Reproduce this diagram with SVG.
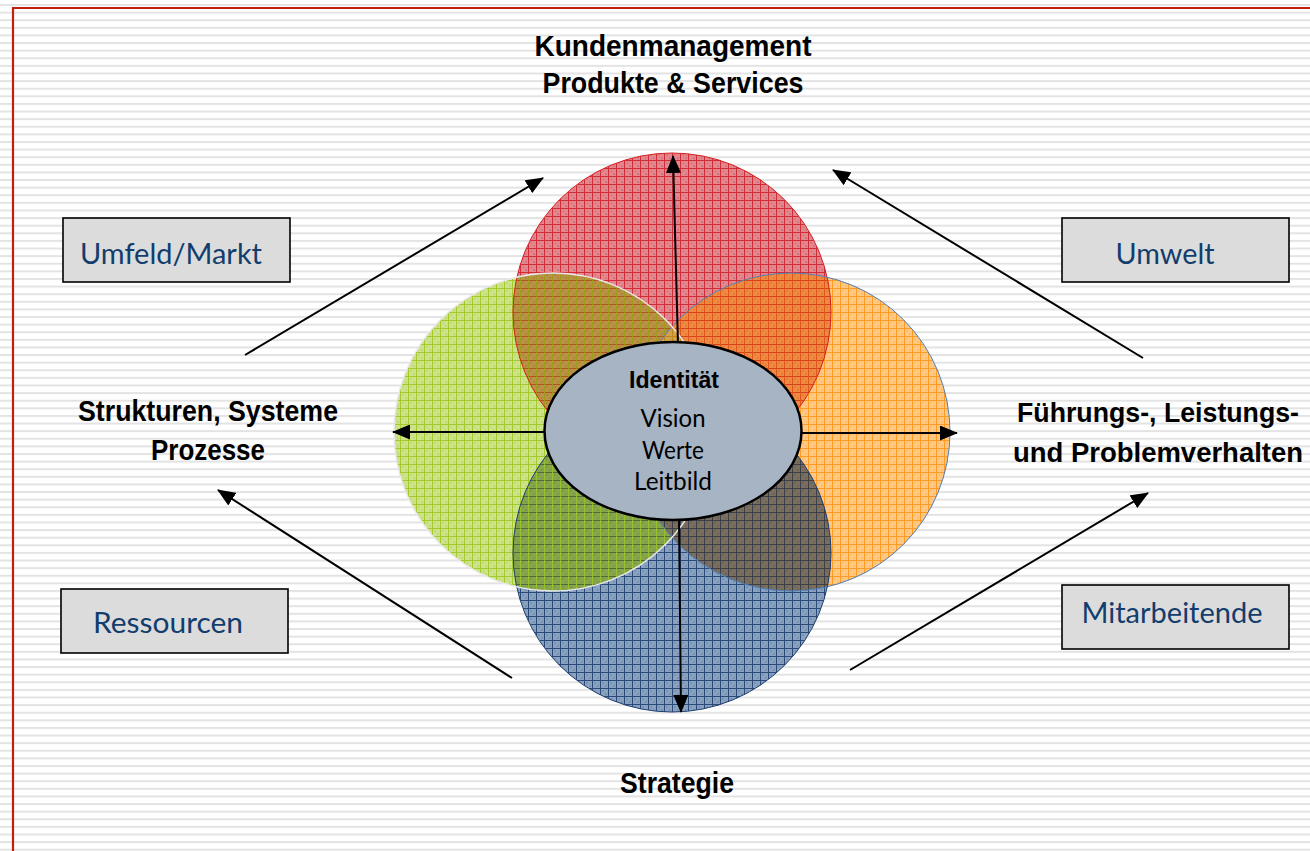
<svg xmlns="http://www.w3.org/2000/svg" width="1310" height="851" viewBox="0 0 1310 851">
<style>
.lbl{font-family:"Liberation Sans",Arial,sans-serif;font-weight:bold;font-size:29px;fill:#000;text-anchor:middle}
.box{fill:#dcdcdc;stroke:#000;stroke-width:1.6}
.btx{font-family:Lato,"Open Sans",sans-serif;font-size:28px;fill:#123d6c;text-anchor:middle}
.ctx{font-family:Lato,"Open Sans",sans-serif;font-size:25px;fill:#000;text-anchor:middle}
.arr{stroke:#000;stroke-width:2;fill:none;marker-end:url(#ah)}
</style>
<defs>
<pattern id="stripes" patternUnits="userSpaceOnUse" width="20" height="7.61" y="4">
<rect width="20" height="7.61" fill="#fff"/>
<rect width="20" height="2" fill="#e3e3e3"/>
</pattern>
<pattern id="pr" patternUnits="userSpaceOnUse" width="8" height="8">
<rect width="8" height="8" fill="#e3878e"/>
<rect x="2" y="2" width="2" height="2" fill="#d9767e"/><rect x="5" y="5" width="2" height="2" fill="#d9767e"/>
<path d="M0,0.5H8M0.5,0V8" stroke="#cf2c38" stroke-width="1"/>
</pattern>
<pattern id="pg" patternUnits="userSpaceOnUse" width="8" height="8">
<rect width="8" height="8" fill="#cde38a"/>
<rect x="2" y="2" width="2" height="2" fill="#c2db76"/><rect x="5" y="5" width="2" height="2" fill="#c2db76"/>
<path d="M0,0.5H8M0.5,0V8" stroke="#a4c92a" stroke-width="1"/>
</pattern>
<pattern id="po" patternUnits="userSpaceOnUse" width="8" height="8">
<rect width="8" height="8" fill="#ffc985"/>
<rect x="2" y="2" width="2" height="2" fill="#ffbd6e"/><rect x="5" y="5" width="2" height="2" fill="#ffbd6e"/>
<path d="M0,0.5H8M0.5,0V8" stroke="#ff9a22" stroke-width="1"/>
</pattern>
<pattern id="pb" patternUnits="userSpaceOnUse" width="8" height="8">
<rect width="8" height="8" fill="#8aa2c0"/>
<rect x="2" y="2" width="2" height="2" fill="#7892b3"/><rect x="5" y="5" width="2" height="2" fill="#7892b3"/>
<path d="M0,0.5H8M0.5,0V8" stroke="#2a4a7a" stroke-width="1"/>
</pattern>
<pattern id="prg" patternUnits="userSpaceOnUse" width="8" height="8">
<rect width="8" height="8" fill="#ba9246"/>
<rect x="2" y="2" width="2" height="2" fill="#ad853c"/><rect x="5" y="5" width="2" height="2" fill="#ad853c"/>
<path d="M0,0.5H8" stroke="#b2541e" stroke-width="1"/><path d="M0.5,0V8" stroke="#a09a1c" stroke-width="1"/>
</pattern>
<pattern id="pro" patternUnits="userSpaceOnUse" width="8" height="8">
<rect width="8" height="8" fill="#ee8a42"/>
<rect x="2" y="2" width="2" height="2" fill="#e67c36"/><rect x="5" y="5" width="2" height="2" fill="#e67c36"/>
<path d="M0,0.5H8" stroke="#d8401c" stroke-width="1"/><path d="M0.5,0V8" stroke="#e0561a" stroke-width="1"/>
</pattern>
<pattern id="pgb" patternUnits="userSpaceOnUse" width="8" height="8">
<rect width="8" height="8" fill="#86a54e"/>
<rect x="2" y="2" width="2" height="2" fill="#7a9a46"/><rect x="5" y="5" width="2" height="2" fill="#7a9a46"/>
<path d="M0,0.5H8" stroke="#4d6a3c" stroke-width="1"/><path d="M0.5,0V8" stroke="#98c028" stroke-width="1"/>
</pattern>
<pattern id="pob" patternUnits="userSpaceOnUse" width="8" height="8">
<rect width="8" height="8" fill="#7a6e5e"/>
<rect x="2" y="2" width="2" height="2" fill="#6e6456"/><rect x="5" y="5" width="2" height="2" fill="#6e6456"/>
<path d="M0,0.5H8M0.5,0V8" stroke="#3c3e48" stroke-width="1"/>
</pattern>
<pattern id="pgo" patternUnits="userSpaceOnUse" width="8" height="8">
<rect width="8" height="8" fill="#d2a24a"/>
<path d="M0,0.5H8M0.5,0V8" stroke="#c0861c" stroke-width="1"/>
</pattern>
<clipPath id="kr"><circle cx="672" cy="312" r="159"/></clipPath>
<clipPath id="kg"><circle cx="553" cy="432" r="159"/></clipPath>
<clipPath id="ko"><circle cx="791" cy="432" r="159"/></clipPath>
<marker id="ah" markerUnits="userSpaceOnUse" markerWidth="18" markerHeight="15" refX="17" refY="7.5" orient="auto" viewBox="0 0 18 15">
<path d="M0,0L18,7.5L0,15z" fill="#000"/>
</marker>
</defs>
<rect width="1310" height="851" fill="url(#stripes)"/>
<path d="M13,851V8H1310" fill="none" stroke="#c41f0c" stroke-width="2.2"/>

<g id="circles">
<circle id="c-red" cx="672" cy="312" r="159" fill="url(#pr)"/>
<circle id="c-green" cx="553" cy="432" r="159" fill="url(#pg)"/>
<circle id="c-orange" cx="791" cy="432" r="159" fill="url(#po)"/>
<circle id="c-blue" cx="672" cy="553" r="159" fill="url(#pb)"/>
<circle cx="553" cy="432" r="159" fill="url(#prg)" clip-path="url(#kr)"/>
<circle cx="791" cy="432" r="159" fill="url(#pro)" clip-path="url(#kr)"/>
<circle cx="791" cy="432" r="159" fill="url(#pgo)" clip-path="url(#kg)"/>
<circle cx="672" cy="553" r="159" fill="url(#pgb)" clip-path="url(#kg)"/>
<circle cx="672" cy="553" r="159" fill="url(#pob)" clip-path="url(#ko)"/>
<circle cx="672" cy="312" r="159" fill="none" stroke="#d42020" stroke-width="1"/>
<circle cx="791" cy="432" r="159" fill="none" stroke="#4f7fb8" stroke-width="1"/>
<circle cx="672" cy="553" r="159" fill="none" stroke="#1f3f70" stroke-width="1"/>
<circle cx="553" cy="432" r="159" fill="none" stroke="#e8e8e8" stroke-width="1.5"/>
</g>

<g id="connectors">
<line class="arr" x1="678" y1="345" x2="673" y2="156"/>
<line class="arr" x1="679" y1="518" x2="681" y2="712"/>
<line class="arr" x1="548" y1="432" x2="393" y2="432"/>
<line class="arr" x1="800" y1="433" x2="957" y2="433"/>
<line class="arr" x1="245" y1="355" x2="543" y2="178"/>
<line class="arr" x1="1143" y1="358" x2="833" y2="170"/>
<line class="arr" x1="512" y1="678" x2="218" y2="490"/>
<line class="arr" x1="850" y1="670" x2="1148" y2="493"/>
</g>

<g id="identity">
<ellipse cx="673" cy="431" rx="128.5" ry="89" fill="#a6b4c4" stroke="#000" stroke-width="2.5"/>
<text x="674" y="388" class="lbl" style="font-size:23px" textLength="90" lengthAdjust="spacingAndGlyphs">Identität</text>
<text x="673" y="427" class="ctx" textLength="65" lengthAdjust="spacingAndGlyphs">Vision</text>
<text x="673" y="459" class="ctx" textLength="62" lengthAdjust="spacingAndGlyphs">Werte</text>
<text x="673" y="490" class="ctx" textLength="78" lengthAdjust="spacingAndGlyphs">Leitbild</text>
</g>

<g id="label-top">
<text x="673" y="56" class="lbl" textLength="277" lengthAdjust="spacingAndGlyphs">Kundenmanagement</text>
<text x="673" y="93" class="lbl" textLength="261" lengthAdjust="spacingAndGlyphs">Produkte &amp; Services</text>
</g>
<g id="label-left">
<text x="208" y="421" class="lbl" textLength="260" lengthAdjust="spacingAndGlyphs">Strukturen, Systeme</text>
<text x="208" y="460" class="lbl" textLength="114" lengthAdjust="spacingAndGlyphs">Prozesse</text>
</g>
<g id="label-right">
<text x="1158" y="422" class="lbl" style="font-size:27px" textLength="282" lengthAdjust="spacingAndGlyphs">Führungs-, Leistungs-</text>
<text x="1158" y="462" class="lbl" style="font-size:27px" textLength="290" lengthAdjust="spacingAndGlyphs">und Problemverhalten</text>
</g>
<g id="label-bottom">
<text x="677" y="793" class="lbl" textLength="114" lengthAdjust="spacingAndGlyphs">Strategie</text>
</g>

<g id="box-umfeld">
<rect x="63" y="218" width="227" height="64" class="box"/>
<text x="171" y="264" class="btx" textLength="182" lengthAdjust="spacingAndGlyphs">Umfeld/Markt</text>
</g>
<g id="box-umwelt">
<rect x="1062" y="218" width="227" height="64" class="box"/>
<text x="1165" y="264" class="btx" textLength="99" lengthAdjust="spacingAndGlyphs">Umwelt</text>
</g>
<g id="box-ressourcen">
<rect x="61" y="589" width="227" height="64" class="box"/>
<text x="168" y="633" class="btx" textLength="150" lengthAdjust="spacingAndGlyphs">Ressourcen</text>
</g>
<g id="box-mitarbeitende">
<rect x="1062" y="585" width="227" height="64" class="box"/>
<text x="1172" y="623" class="btx" textLength="181" lengthAdjust="spacingAndGlyphs">Mitarbeitende</text>
</g>
</svg>
